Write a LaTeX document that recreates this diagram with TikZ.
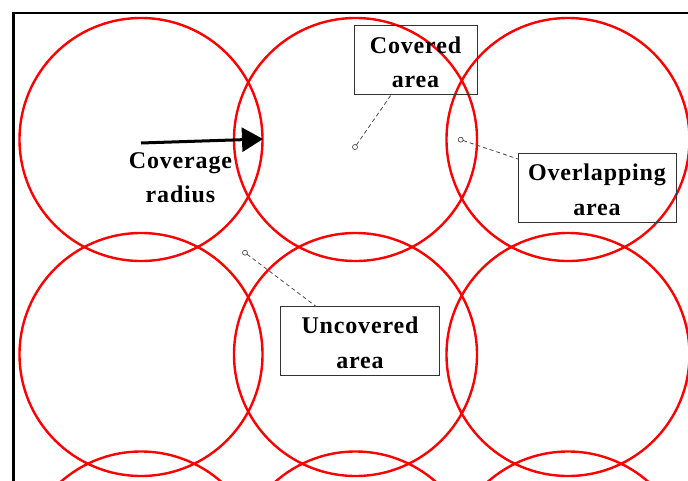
\documentclass[tikz,border=0pt]{standalone}
\usepackage{fontspec}
\setmainfont[LetterSpace=3.5]{Liberation Serif}
\usetikzlibrary{arrows.meta}
\newcommand{\lowered}[1]{\raisebox{-3.5pt}[\height][\depth]{\begin{tabular}{@{}c@{}}#1\end{tabular}}}
\tikzset{
  cov/.style={circle, draw=red, line width=2.4pt, minimum size=243pt, inner sep=0pt, outer sep=0pt},
  lbl/.style={font=\bfseries\fontsize{24}{34}\selectfont, align=center, text=black, inner sep=0pt},
  boxed/.style={lbl, font=\bfseries\fontsize{24}{34.5}\selectfont, draw=black!80, line width=1pt, outer sep=0pt},
  marker/.style={circle, draw=black!70, line width=0.7pt, minimum size=5pt, inner sep=0pt, outer sep=0pt, fill=white},
  leader/.style={draw=black!70, line width=0.8pt, dash pattern=on 4pt off 3pt},
  radarrow/.style={line width=3pt, -{Triangle[length=21pt,width=24pt]}}
}
\begin{document}
\begin{tikzpicture}[x=1pt,y=-1pt]
\useasboundingbox (0,0) rectangle (688,480);
\clip (0,0) rectangle (688,480);
% frame
\draw[line width=2.5pt] (13.5,700) -- (13.5,13) -- (700,13);
% circles
\foreach \r/\cy in {1/139.5,2/354.5,3/573}{
  \foreach \c/\cx in {1/141,2/355.5,3/568}{
    \node[cov] (c\r\c) at (\cx,\cy) {};
  }
}
% radius arrow
\coordinate (ra) at (141,143);
\coordinate (rb) at (263,139);
\draw[radarrow] (ra) -- (rb);
\node[lbl] (radlbl) at (180.5,178) {Coverage\\radius};
% boxes
\node[boxed, minimum width=123pt, minimum height=66pt] (covbox) at (415.5,60) {\lowered{Covered\\area}};
\node[boxed, minimum width=158pt, minimum height=67pt] (ovlbox) at (597,187.7) {\lowered{Overlapping\\area}};
\node[boxed, minimum width=158.6pt, minimum height=67pt] (uncbox) at (360,340.8) {\lowered{Uncovered\\area}};
% leaders
\node[marker] (m1) at (355,147) {};
\node[marker] (m2) at (460.7,139.7) {};
\node[marker] (m3) at (245,252.7) {};
\draw[leader] (m1) -- (covbox.235.7);
\draw[leader] (m2) -- (ovlbox.160.7);
\draw[leader] (m3) -- (uncbox.142.7);
\end{tikzpicture}
\end{document}
